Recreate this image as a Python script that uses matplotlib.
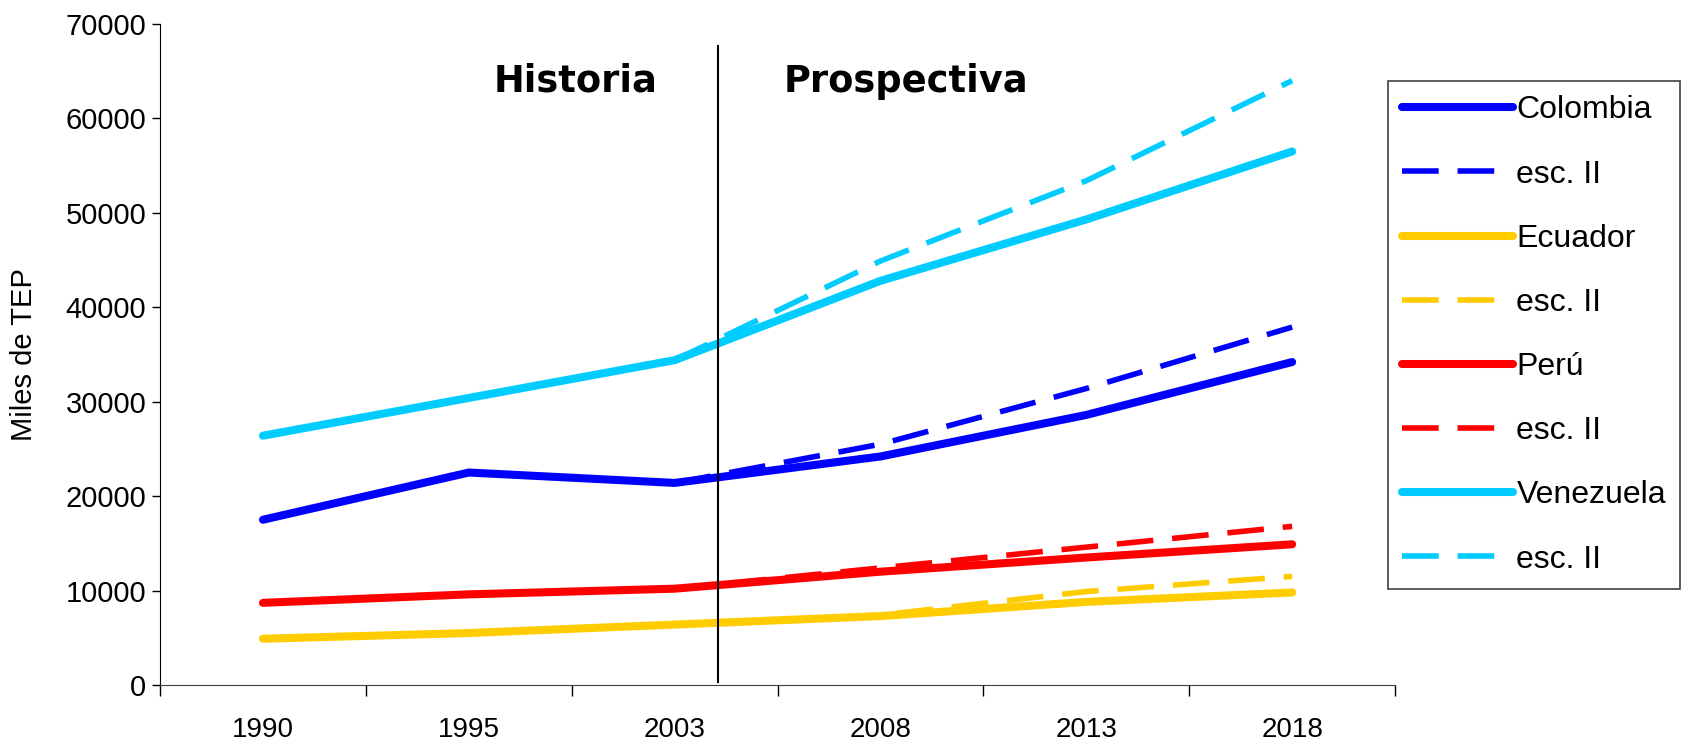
import matplotlib
matplotlib.use("Agg")
import matplotlib.pyplot as plt

plt.rcParams['font.family'] = ['Liberation Sans', 'DejaVu Sans']

years = ["1990", "1995", "2003", "2008", "2013", "2018"]
hist_idx = [0, 1, 2, 3, 4, 5]
esc_idx = [2, 3, 4, 5]

colombia = [17500, 22500, 21400, 24200, 28600, 34200]
colombia_esc = [21400, 25500, 31400, 37900]
ecuador = [4900, 5500, 6400, 7300, 8800, 9800]
ecuador_esc = [6400, 7400, 9900, 11500]
peru = [8700, 9600, 10200, 12000, 13500, 14900]
peru_esc = [10200, 12400, 14600, 16800]
venezuela = [26400, 30400, 34400, 42800, 49300, 56500]
venezuela_esc = [34400, 44900, 53400, 64000]

series = [
    ("Colombia", colombia, colombia_esc, "#0000FF"),
    ("Ecuador", ecuador, ecuador_esc, "#FFCC00"),
    ("Perú", peru, peru_esc, "#FF0000"),
    ("Venezuela", venezuela, venezuela_esc, "#00CCFF"),
]

fig = plt.figure(figsize=(16.92, 7.47), dpi=100)
ax = fig.add_axes([0.0946, 0.0830, 0.7299, 0.8849])

for name, vals, esc, col in series:
    ax.plot(hist_idx, vals, color=col, lw=5.8, solid_capstyle="round",
            solid_joinstyle="round", label=name)
    ax.plot(esc_idx, esc, color=col, lw=4, linestyle=(0, (6.6, 3.4)),
            dash_capstyle="butt", label="esc. II")

# separation history / projection
ax.plot([2.21, 2.21], [300, 67700], color="black", lw=1.5)
ax.text(1.517, 63960, "Historia", ha="center", va="center",
        fontsize=26.5, fontweight="bold", family="DejaVu Sans")
ax.text(3.125, 63960, "Prospectiva", ha="center", va="center",
        fontsize=26.5, fontweight="bold", family="DejaVu Sans")

ax.set_xlim(-0.5, 5.5)
ax.set_ylim(0, 70000)
ax.set_yticks(range(0, 70001, 10000))
ax.set_xticks([i - 0.5 for i in range(7)])
ax.set_xticklabels([])
ax.set_xticks(hist_idx, minor=True)
ax.set_xticklabels(years, minor=True)
ax.tick_params(axis="x", which="major", direction="out", length=8, width=1)
ax.tick_params(axis="x", which="minor", length=0, pad=23, labelsize=20)
ax.tick_params(axis="y", direction="out", length=6, width=1, pad=4,
               labelsize=21)
ax.set_ylabel("Miles de TEP", fontsize=21, labelpad=20)

for s in ["top", "right"]:
    ax.spines[s].set_visible(False)
ax.spines["bottom"].set_color("#404040")

leg = fig.legend(loc="upper left", bbox_to_anchor=(0.8203, 0.8916),
                 borderaxespad=0, fontsize=23, handlelength=3.45,
                 handletextpad=0.12, labelspacing=1.07, borderpad=0.45,
                 fancybox=False, framealpha=1, edgecolor="#404040")
leg.get_frame().set_linewidth(1.2)

fig.savefig("out.png", dpi=100)
